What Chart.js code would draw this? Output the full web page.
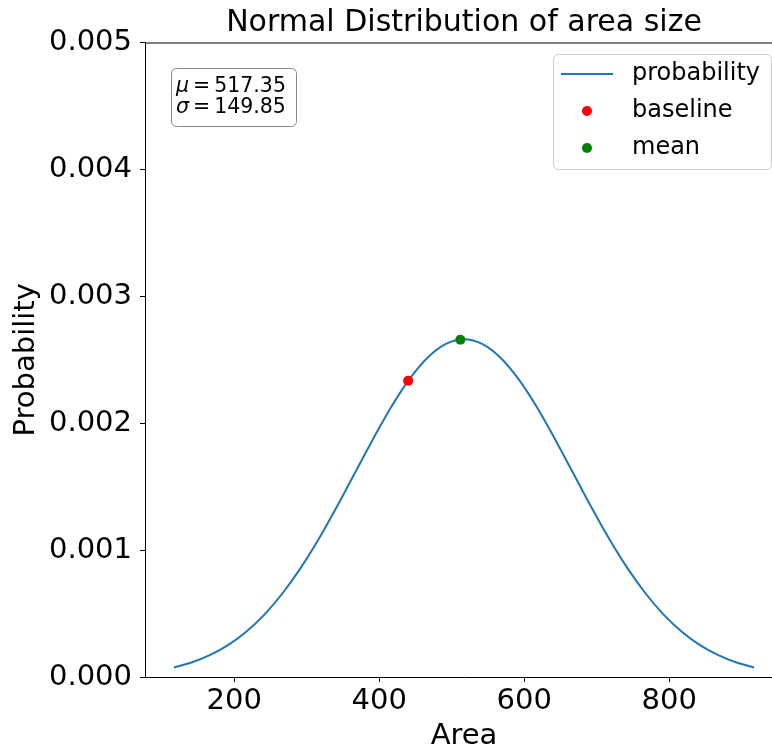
<!DOCTYPE html>
<html>
<head>
<meta charset="utf-8">
<title>Normal Distribution of area size</title>
<script src="https://cdn.jsdelivr.net/npm/chart.js@4/dist/chart.umd.min.js"></script>
<style>
  html, body { margin: 0; padding: 0; background: #fff; overflow: hidden; }
  #wrap { width: 800px; height: 751px; }
</style>
</head>
<body>
<div id="wrap"><canvas id="chart" width="800" height="751"></canvas></div>
<script>
"use strict";

// Curve (area -> probability density).
var areas = [117, 142, 167, 192, 217, 242, 267, 292, 317, 342, 367, 392, 417, 442, 467, 492,
  517, 542, 567, 592, 617, 642, 667, 692, 717, 742, 767, 792, 817, 842, 867, 892, 917];
var probability = [0.0000755, 0.000116, 0.000174, 0.000253, 0.000359, 0.000494, 0.000662, 0.000862,
  0.001092, 0.001346, 0.001613, 0.001880, 0.002131, 0.002349, 0.002518, 0.002625,
  0.002662, 0.002625, 0.002518, 0.002349, 0.002131, 0.001880, 0.001613, 0.001346,
  0.001092, 0.000862, 0.000662, 0.000494, 0.000359, 0.000253, 0.000174, 0.000116, 0.0000755];

var baselinePoint = [{ x: 440, y: 0.002335 }];
var meanPoint = [{ x: 512, y: 0.002658 }];

var xTicks = [200, 400, 600, 800];
var yTicks = [0, 0.001, 0.002, 0.003, 0.004, 0.005];
var statLines = [["\u03bc", "517.35"], ["\u03c3", "149.85"]];

var FONT = "'DejaVu Sans', sans-serif";

// Top/right spines, the stats box and the legend, drawn like matplotlib does.
var extrasPlugin = {
  id: "extras",
  afterDraw: function (chart) {
    var ctx = chart.ctx;
    var a = chart.chartArea;
    ctx.save();

    // frame
    ctx.strokeStyle = "#000";
    ctx.lineWidth = 1;
    ctx.beginPath();
    ctx.moveTo(a.left, a.top + 0.5);
    ctx.lineTo(a.right, a.top + 0.5);
    ctx.lineTo(a.right, a.bottom);
    ctx.stroke();

    // stats box
    roundRect(ctx, 171.5, 68.5, 125, 58, 5);
    ctx.fillStyle = "rgba(255,255,255,0.6)";
    ctx.fill();
    ctx.strokeStyle = "#888";
    ctx.stroke();
    ctx.fillStyle = "#000";
    ctx.textBaseline = "alphabetic";
    statLines.forEach(function (ln, i) {
      var y = 91.5 + i * 21.5;
      var x = 176;
      ctx.font = "italic 20.5px " + FONT;
      ctx.fillText(ln[0], x, y);
      x += ctx.measureText(ln[0]).width + 4;
      ctx.font = "20.5px " + FONT;
      ctx.fillText("=", x, y);
      x += ctx.measureText("=").width + 4;
      ctx.fillText(ln[1], x, y);
    });

    // legend
    roundRect(ctx, 553.5, 54.5, 218, 115, 5);
    ctx.fillStyle = "rgba(255,255,255,0.8)";
    ctx.fill();
    ctx.strokeStyle = "#ccc";
    ctx.stroke();
    ctx.font = "24px " + FONT;
    ctx.textBaseline = "middle";
    chart.data.datasets.forEach(function (ds, i) {
      var y = 74 + i * 37;
      if (ds.showLine) {
        ctx.strokeStyle = ds.borderColor;
        ctx.lineWidth = 2;
        ctx.beginPath();
        ctx.moveTo(561, y);
        ctx.lineTo(613, y);
        ctx.stroke();
      } else {
        ctx.fillStyle = ds.backgroundColor;
        ctx.beginPath();
        ctx.arc(587, y, 5, 0, Math.PI * 2);
        ctx.fill();
      }
      ctx.fillStyle = "#000";
      ctx.fillText(ds.label, 632, y);
    });

    ctx.restore();
  }
};

function roundRect(ctx, x, y, w, h, r) {
  ctx.beginPath();
  ctx.moveTo(x + r, y);
  ctx.lineTo(x + w - r, y);
  ctx.arcTo(x + w, y, x + w, y + r, r);
  ctx.lineTo(x + w, y + h - r);
  ctx.arcTo(x + w, y + h, x + w - r, y + h, r);
  ctx.lineTo(x + r, y + h);
  ctx.arcTo(x, y + h, x, y + h - r, r);
  ctx.lineTo(x, y + r);
  ctx.arcTo(x, y, x + r, y, r);
  ctx.closePath();
}

var tickGrid = {
  display: true,
  drawOnChartArea: false,
  drawTicks: true,
  tickLength: 5,
  tickColor: "#000",
  tickWidth: 1
};

new Chart(document.getElementById("chart").getContext("2d"), {
  type: "scatter",
  data: {
    datasets: [{
      label: "probability",
      data: areas.map(function (a, i) { return { x: a, y: probability[i] }; }),
      showLine: true,
      borderColor: "#1f77b4",
      borderWidth: 2,
      pointRadius: 0,
      cubicInterpolationMode: "monotone",
      order: 1
    }, {
      label: "baseline",
      data: baselinePoint,
      backgroundColor: "#ff0000",
      borderWidth: 0,
      pointRadius: 5,
      order: 0
    }, {
      label: "mean",
      data: meanPoint,
      backgroundColor: "#008000",
      borderWidth: 0,
      pointRadius: 5,
      order: 0
    }]
  },
  options: {
    responsive: false,
    animation: false,
    devicePixelRatio: 1,
    layout: { padding: { left: 0, right: 17, top: 0, bottom: 0 } },
    plugins: {
      legend: { display: false },
      tooltip: { enabled: false },
      title: {
        display: true,
        fullSize: false,
        text: "Normal Distribution of area size",
        color: "#000",
        font: { family: FONT, size: 30, weight: "normal", lineHeight: 1.2 },
        padding: { top: 5, bottom: 1.5 }
      }
    },
    scales: {
      x: {
        type: "linear",
        min: 77,
        max: 957,
        afterBuildTicks: function (scale) {
          scale.ticks = xTicks.map(function (v) { return { value: v }; });
        },
        afterFit: function (scale) { scale.height = 74; },
        ticks: {
          color: "#000",
          padding: 2,
          maxRotation: 0,
          font: { family: FONT, size: 29 }
        },
        grid: tickGrid,
        border: { display: true, color: "#000", width: 1 },
        title: {
          display: true,
          text: "Area",
          color: "#000",
          padding: 0,
          font: { family: FONT, size: 29, lineHeight: 1.0 }
        }
      },
      y: {
        type: "linear",
        min: 0,
        max: 0.005,
        afterBuildTicks: function (scale) {
          scale.ticks = yTicks.map(function (v) { return { value: v }; });
        },
        afterFit: function (scale) { scale.width = 145; },
        ticks: {
          color: "#000",
          padding: 8,
          font: { family: FONT, size: 29 },
          callback: function (v) { return Number(v).toFixed(3); }
        },
        grid: tickGrid,
        border: { display: true, color: "#000", width: 1 },
        title: {
          display: true,
          text: "Probability",
          color: "#000",
          padding: { top: 9, bottom: 0 },
          font: { family: FONT, size: 29, lineHeight: 1.2 }
        }
      }
    }
  },
  plugins: [extrasPlugin]
});
</script>
</body>
</html>
